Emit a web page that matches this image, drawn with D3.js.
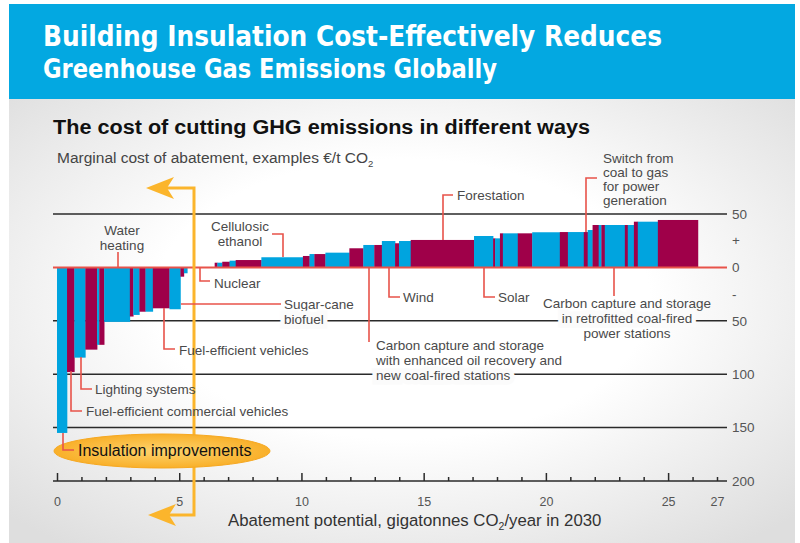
<!DOCTYPE html>
<html>
<head>
<meta charset="utf-8">
<script src="https://cdn.jsdelivr.net/npm/d3@7"></script>
<style>
  body { margin: 0; background: #fff; }
  svg { display: block; font-family: "Liberation Sans", Arial, sans-serif; }
</style>
</head>
<body>
<svg id="chart" width="800" height="543"></svg>
<script>
// abatement measures, left to right: width in Gt CO2/yr, cost in EUR/t CO2
var widths = [0.41, 0.30, 0.45, 0.48, 0.09, 0.20, 1.05, 0.14, 0.25, 0.25, 0.30, 0.68, 0.45, 0.14, 0.14,
	1.12,
	0.11, 0.20, 0.30, 0.25, 1.05, 1.70, 0.27, 0.20, 0.45, 0.98, 0.57, 0.45, 0.31, 0.54, 0.16, 0.48,
	2.59, 0.78, 0.08, 0.20, 0.12, 0.61, 0.59, 1.13, 0.33, 0.65, 0.16, 0.20, 0.25, 0.11, 0.14, 0.82,
	0.12, 0.25, 0.16, 0.82, 1.64];
var costs = [-155, -98, -84.5, -77, -72.5, -72.5, -51, -46, -44.5, -41.5, -41.5, -38.3, -39.2, -8.7, -5.5,
	0,
	4.4, 4.4, 5.3, 6.3, 6.9, 9.5, 10.7, 12.5, 12.5, 13.8, 17.9, 21, 21, 24.7, 22.6, 24.7,
	25.7, 29.4, 27.2, 27.2, 31.9, 31.9, 31.9, 32.9, 33.1, 33.1, 33.1, 35, 39.7, 39.7, 39.7, 39.7,
	39.7, 39.7, 42.8, 42.8, 44.4];

var xTickLabels = [0, 5, 10, 15, 20, 25, 27];
var yGrid = [50, -50, -100, -150];
var yTickValues = [50, 25, 0, -25, -50, -100, -150, -200];
var yTickLabels = ["50", "+", "0", "-", "50", "100", "150", "200"];

var svg = d3.select("#chart");
var blue = "#00a4df", maroon = "#9f0049", red = "#e8534a", orange = "#fbb52c";

var x = d3.scaleLinear().domain([0, 27]).range([57, 717]);
var y = d3.scaleLinear().domain([-200, 50]).range([481, 214]);

// background
var defs = svg.append("defs");
var bg = defs.append("radialGradient").attr("id", "bg")
	.attr("cx", "50%").attr("cy", "45%").attr("r", "70%");
bg.append("stop").attr("offset", "0.45").attr("stop-color", "#ffffff");
bg.append("stop").attr("offset", "1").attr("stop-color", "#dedede");
var eg = defs.append("radialGradient").attr("id", "eg");
eg.append("stop").attr("offset", "0").attr("stop-color", "#fdd46e");
eg.append("stop").attr("offset", "1").attr("stop-color", "#f9b02a");

svg.append("rect").attr("x", 9).attr("y", 99).attr("width", 786).attr("height", 444).attr("fill", "url(#bg)");
svg.append("rect").attr("x", 9).attr("y", 4).attr("width", 786).attr("height", 95).attr("fill", "#03a8e1");

svg.append("text").attr("x", 43).attr("y", 46)
	.attr("font-family", "'Liberation Sans Narrow', 'DejaVu Sans Condensed', sans-serif")
	.attr("font-weight", "bold").attr("font-size", 29).attr("fill", "#fff")
	.attr("textLength", 619).attr("lengthAdjust", "spacingAndGlyphs")
	.text("Building Insulation Cost-Effectively Reduces");
svg.append("text").attr("x", 43).attr("y", 78)
	.attr("font-family", "'Liberation Sans Narrow', 'DejaVu Sans Condensed', sans-serif")
	.attr("font-weight", "bold").attr("font-size", 26).attr("fill", "#fff")
	.attr("textLength", 454).attr("lengthAdjust", "spacingAndGlyphs")
	.text("Greenhouse Gas Emissions Globally");

svg.append("text").attr("x", 53).attr("y", 134)
	.attr("font-weight", "bold").attr("font-size", 20).attr("fill", "#111")
	.attr("textLength", 537).attr("lengthAdjust", "spacingAndGlyphs")
	.text("The cost of cutting GHG emissions in different ways");

var ytitle = svg.append("text").attr("x", 57).attr("y", 163)
	.attr("font-size", 15.5).attr("fill", "#444");
ytitle.append("tspan").text("Marginal cost of abatement, examples €/t CO");
ytitle.append("tspan").attr("font-size", 9.5).attr("dy", 4).text("2");

// grid lines
svg.append("g").selectAll("line").data(yGrid).enter().append("line")
	.attr("x1", x(0) - 4).attr("x2", x(27) + 10)
	.attr("y1", function(d) { return y(d); }).attr("y2", function(d) { return y(d); })
	.attr("stroke", "#2a2a2a").attr("stroke-width", 1.5);

// bars
var starts = [], acc = 0;
widths.forEach(function(w) { starts.push(acc); acc += w; });
var tone = 0;
var bars = widths.map(function(w, i) {
	var c = null;
	if (costs[i] !== 0) { c = tone % 2 === 0 ? blue : maroon; tone++; }
	return { x0: starts[i], w: w, v: costs[i], c: c };
}).filter(function(d) { return d.c; });

svg.append("g").selectAll("rect").data(bars).enter().append("rect")
	.attr("x", function(d) { return x(d.x0); })
	.attr("width", function(d) { return x(d.x0 + d.w) - x(d.x0) + 0.3; })
	.attr("y", function(d) { return y(Math.max(0, d.v)); })
	.attr("height", function(d) { return Math.abs(y(d.v) - y(0)); })
	.attr("fill", function(d) { return d.c; });

// zero line
svg.append("line").attr("x1", x(0) - 4).attr("x2", x(27) + 10)
	.attr("y1", y(0)).attr("y2", y(0)).attr("stroke", red).attr("stroke-width", 2);

// right axis labels
svg.append("g").selectAll("text").data(yTickValues).enter().append("text")
	.attr("x", x(27) + 15).attr("y", function(d) { return y(d); })
	.attr("dy", "0.35em").attr("font-size", 13.5).attr("fill", "#555")
	.text(function(d, i) { return yTickLabels[i]; });

// x axis
var xAxis = svg.append("g").attr("transform", "translate(0," + y(-200) + ")")
	.call(d3.axisTop(x).tickValues(d3.range(0, 28)).tickSize(4).tickFormat(""));
xAxis.select(".domain").remove();
xAxis.selectAll(".tick line").attr("stroke", "#2a2a2a").attr("stroke-width", 1.5)
	.attr("y2", function(d) { return d % 5 === 0 ? -8 : -4; });
xAxis.append("line").attr("x1", x(0) - 4).attr("x2", x(27) + 10)
	.attr("stroke", "#2a2a2a").attr("stroke-width", 1.5);

var xLab = svg.append("g").attr("transform", "translate(0," + y(-200) + ")")
	.call(d3.axisBottom(x).tickValues(xTickLabels).tickSize(0).tickPadding(16));
xLab.select(".domain").remove();
xLab.selectAll("text").attr("font-size", 12.5).attr("fill", "#555")
	.attr("font-family", "'Liberation Sans', Arial, sans-serif");

var xtitle = svg.append("text").attr("x", 228).attr("y", 526)
	.attr("font-size", 16.8).attr("fill", "#333");
xtitle.append("tspan").text("Abatement potential, gigatonnes CO");
xtitle.append("tspan").attr("font-size", 10.5).attr("dy", 4).text("2");
xtitle.append("tspan").attr("dy", -4).text("/year in 2030");

// orange arrow
function arrowHead(tx, ty) {
	return "M" + tx + "," + ty + "L" + (tx + 28) + "," + (ty - 11) + "L" + (tx + 21) + "," + ty +
		"L" + (tx + 28) + "," + (ty + 11) + "Z";
}
svg.append("path").attr("d", "M166,188H194V515H168")
	.attr("fill", "none").attr("stroke", orange).attr("stroke-width", 3);
svg.append("path").attr("d", arrowHead(146, 188)).attr("fill", orange);
svg.append("path").attr("d", arrowHead(148, 515)).attr("fill", orange);

// insulation ellipse
svg.append("ellipse").attr("cx", 162).attr("cy", 451).attr("rx", 108).attr("ry", 17)
	.attr("fill", "url(#eg)").attr("stroke", "#f6a821").attr("stroke-width", 1);

// leader lines
var leaders = [
	"M118,252V267",
	"M272,234H283V257",
	"M200,267V281H210",
	"M453,195H443V240",
	"M597,178H586V232",
	"M389,267V297H400",
	"M484,267V297H495",
	"M614,267V296",
	"M369,267V342",
	"M181,304H281",
	"M164,308V349H175",
	"M81,357V389H92",
	"M71,371V411H82",
	"M63,433V450H74"
];
svg.append("g").selectAll("path").data(leaders).enter().append("path")
	.attr("d", function(d) { return d; })
	.attr("fill", "none").attr("stroke", red).attr("stroke-width", 1.6);

// labels
function label(lines, px, py, anchor, halo, size, color) {
	var t = svg.append("text").attr("x", px).attr("y", py)
		.attr("font-size", size || 13.5).attr("fill", color || "#4a4a4a")
		.attr("text-anchor", anchor || "start");
	if (halo) t.attr("stroke", "#fbfbfb").attr("stroke-width", 9).attr("paint-order", "stroke");
	lines.forEach(function(s, i) {
		t.append("tspan").attr("x", px).attr("dy", i === 0 ? 0 : 15).text(s);
	});
	return t;
}
label(["Water", "heating"], 122, 235, "middle");
label(["Cellulosic", "ethanol"], 240, 231, "middle");
label(["Nuclear"], 214, 288);
label(["Forestation"], 457, 200);
label(["Switch from", "coal to gas", "for power", "generation"], 603, 163).selectAll("tspan").attr("dy", function(d, i) { return i === 0 ? 0 : 14; });
label(["Wind"], 403, 302);
label(["Solar"], 498, 302);
label(["Sugar-cane"], 284, 309);
label(["biofuel"], 284, 324, "start", true);
label(["Carbon capture and storage"], 627, 308, "middle");
label(["in retrofitted coal-fired"], 627, 323, "middle", true);
label(["power stations"], 627, 338, "middle");
label(["Carbon capture and storage", "with enhanced oil recovery and"], 376, 350);
label(["new coal-fired stations"], 376, 380, "start", true);
label(["Fuel-efficient vehicles"], 179, 355);
label(["Lighting systems"], 95, 394);
label(["Fuel-efficient commercial vehicles"], 86, 416);
label(["Insulation improvements"], 78, 456, "start", false, 16, "#111");
</script>
</body>
</html>
